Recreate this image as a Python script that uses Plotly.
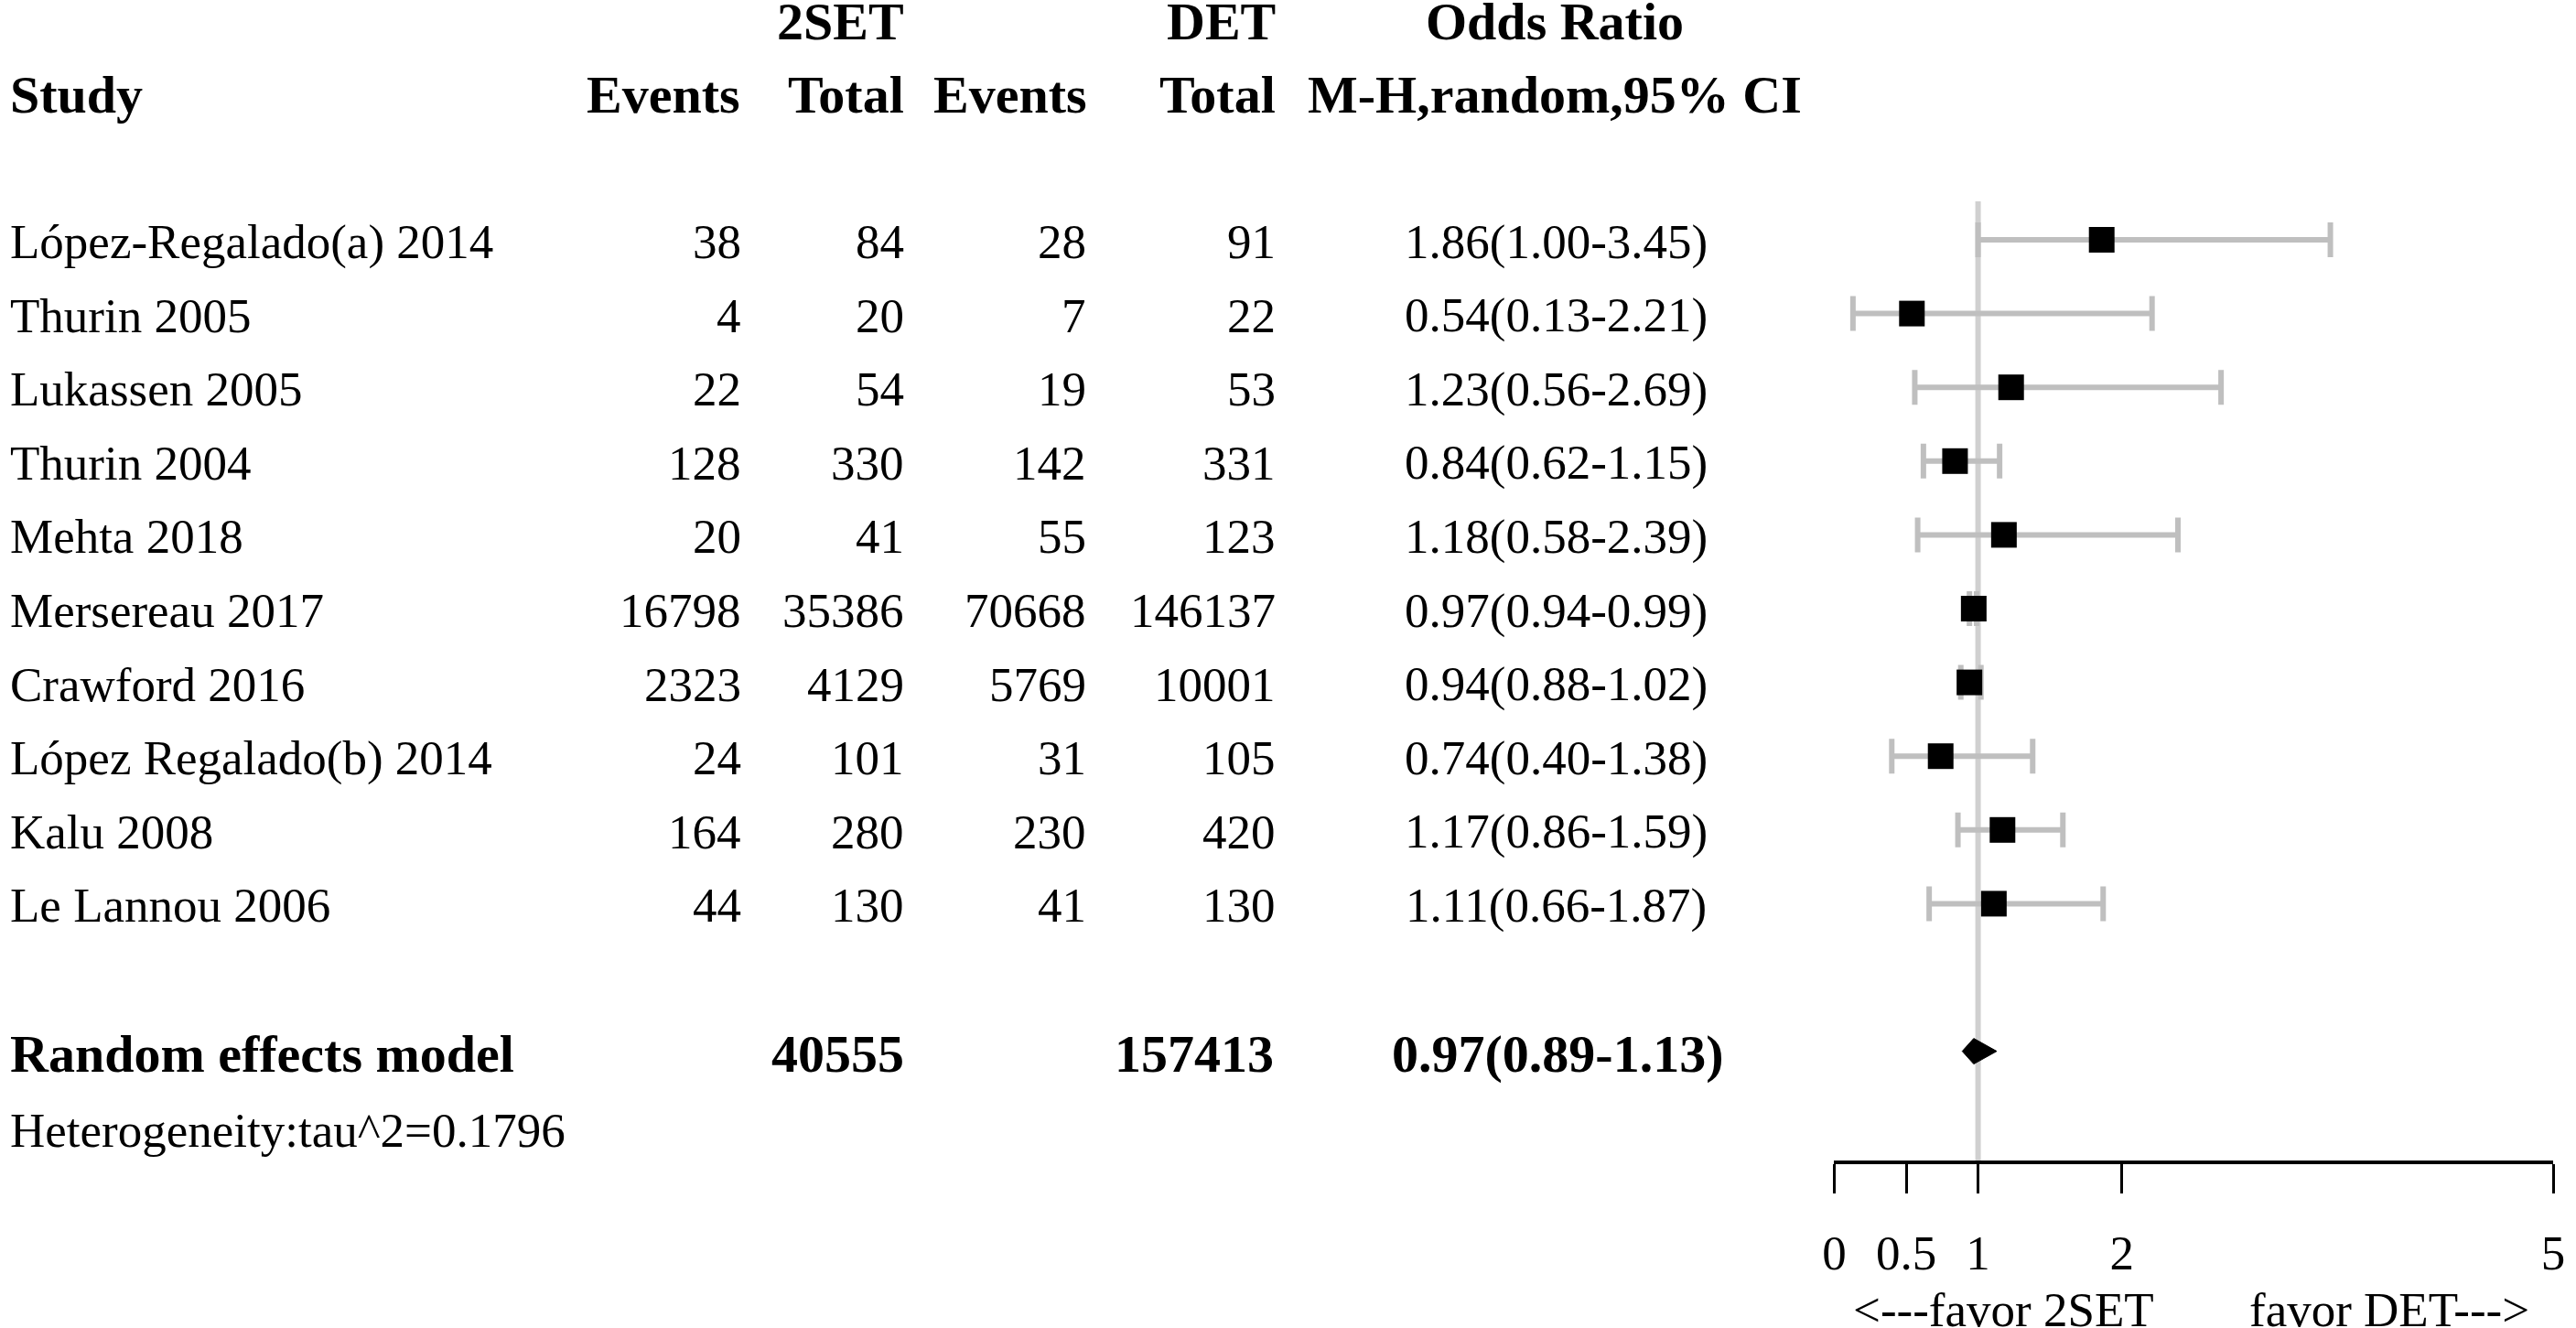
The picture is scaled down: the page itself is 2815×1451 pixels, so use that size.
import plotly.graph_objects as go

# ---------------- data ----------------
studies = ["López-Regalado(a) 2014", "Thurin 2005", "Lukassen 2005", "Thurin 2004",
           "Mehta 2018", "Mersereau 2017", "Crawford 2016", "López Regalado(b) 2014",
           "Kalu 2008", "Le Lannou 2006"]
events_2set = [38, 4, 22, 128, 20, 16798, 2323, 24, 164, 44]
total_2set = [84, 20, 54, 330, 41, 35386, 4129, 101, 280, 130]
events_det = [28, 7, 19, 142, 55, 70668, 5769, 31, 230, 41]
total_det = [91, 22, 53, 331, 123, 146137, 10001, 105, 420, 130]
odds_ratio = [1.86, 0.54, 1.23, 0.84, 1.18, 0.97, 0.94, 0.74, 1.17, 1.11]
ci_low = [1.00, 0.13, 0.56, 0.62, 0.58, 0.94, 0.88, 0.40, 0.86, 0.66]
ci_high = [3.45, 2.21, 2.69, 1.15, 2.39, 0.99, 1.02, 1.38, 1.59, 1.87]

pooled_label = "Random effects model"
pooled_total_2set = 40555
pooled_total_det = 157413
pooled_or = 0.97
pooled_low = 0.89
pooled_high = 1.13
heterogeneity = "Heterogeneity:tau^2=0.1796"

tick_vals = [0, 0.5, 1, 2, 5]
tick_text = ["0", "0.5", "1", "2", "5"]

# ---------------- layout constants ----------------
W, H = 2815, 1451
ROW0 = 262.0      # pixel y of first study row
ROWH = 80.6       # pixel height of a row
X0_PX, X5_PX = 2010, 2803
FONT = "Liberation Serif"
FS, FSB = 53, 58
DX = -4           # horizontal text correction

def ry(p):  # pixel y -> data y (row units)
    return (p - ROW0) / ROWH

rows = list(range(len(studies)))
pooled_row = 11

fig = go.Figure()

# reference line at OR = 1
fig.add_shape(type="line", xref="x", yref="y", x0=1, x1=1, y0=ry(220), y1=ry(1270),
              line=dict(color="#d0d0d0", width=6), layer="below")

# study estimates with CI
fig.add_trace(go.Scatter(
    x=odds_ratio, y=rows, mode="markers",
    marker=dict(symbol="square", size=28, color="black"),
    error_x=dict(type="data", symmetric=False,
                 array=[h - o for h, o in zip(ci_high, odds_ratio)],
                 arrayminus=[o - l for o, l in zip(odds_ratio, ci_low)],
                 color="#bfbfbf", thickness=6, width=19),
    cliponaxis=False, hoverinfo="skip", showlegend=False))

# pooled diamond
dh = 14 / ROWH
fig.add_trace(go.Scatter(
    x=[pooled_low, pooled_or, pooled_high, pooled_or, pooled_low],
    y=[pooled_row, pooled_row - dh, pooled_row, pooled_row + dh, pooled_row],
    mode="lines", fill="toself", fillcolor="black", line=dict(color="black", width=1),
    cliponaxis=False, hoverinfo="skip", showlegend=False))

ann = []

def txt(text, xpx, y, anchor, bold=False):
    ann.append(dict(text=("<b>%s</b>" % text) if bold else text,
                    x=(xpx + DX) / W, xref="paper", y=y, yref="y",
                    xanchor=anchor, yanchor="middle", showarrow=False,
                    font=dict(family=FONT, size=FSB if bold else FS, color="black")))

# headers
h1, h2 = ry(23), ry(103)
txt("2SET", 990, h1, "right", True)
txt("DET", 1400, h1, "right", True)
txt("Odds Ratio", 1706, h1, "center", True)
txt("Study", 0, h2, "left", True)
txt("Events", 809, h2, "right", True)
txt("Total", 990, h2, "right", True)
txt("Events", 1192, h2, "right", True)
txt("Total", 1400, h2, "right", True)
txt("M-H,random,95% CI", 1706, h2, "center", True)

# study rows
for i, r in enumerate(rows):
    yy = ry(ROW0 + ROWH * r + 2)
    txt(studies[i], 0, yy, "left")
    txt(str(events_2set[i]), 810, yy, "right")
    txt(str(total_2set[i]), 990, yy, "right")
    txt(str(events_det[i]), 1191, yy, "right")
    txt(str(total_det[i]), 1400, yy, "right")
    txt("%.2f(%.2f-%.2f)" % (odds_ratio[i], ci_low[i], ci_high[i]), 1707, yy, "center")

# pooled row
yp = ry(1151.5)
txt(pooled_label, 0, yp, "left", True)
txt(str(pooled_total_2set), 990, yp, "right", True)
txt(str(pooled_total_det), 1398, yp, "right", True)
txt("%.2f(%.2f-%.2f)" % (pooled_or, pooled_low, pooled_high), 1709, yp, "center", True)
txt(heterogeneity, 0, ry(1235), "left")

# favour labels
txt("<---favor 2SET", 2201, ry(1431), "center")
txt("favor DET--->", 2626, ry(1431), "center")

fig.update_layout(
    width=W, height=H, margin=dict(l=0, r=0, t=0, b=0),
    paper_bgcolor="white", plot_bgcolor="white",
    annotations=ann,
    xaxis=dict(domain=[X0_PX / W, X5_PX / W], range=[0, 5],
               anchor="free", position=1 - 1270 / H,
               showline=True, linecolor="black", linewidth=4,
               ticks="outside", ticklen=32, tickwidth=3, tickcolor="black",
               tickvals=tick_vals, ticktext=tick_text,
               tickfont=dict(family=FONT, size=FS, color="black"),
               ticklabelstandoff=19, ticklabeloverflow="allow",
               showgrid=False, zeroline=False, fixedrange=True),
    yaxis=dict(domain=[0, 1], range=[ry(H), ry(0)], visible=False,
               showgrid=False, zeroline=False, fixedrange=True),
)

fig.write_html("out.html", config={"displayModeBar": False},
               post_script="document.body.style.margin='0';document.body.style.overflow='hidden';")
